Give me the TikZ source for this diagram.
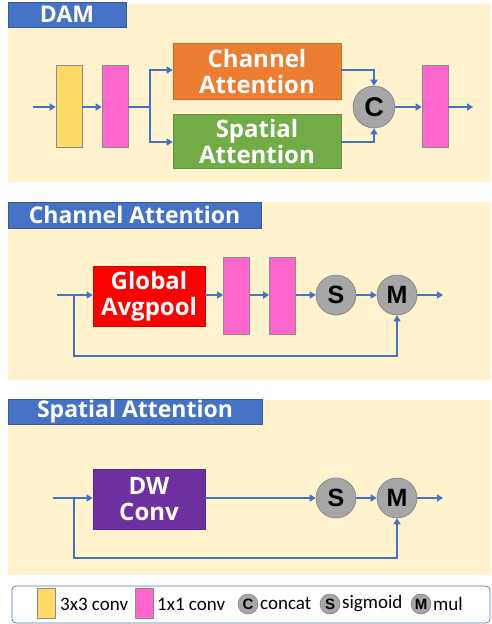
\documentclass[tikz,border=0pt]{standalone}
\usepackage{fontspec}
\usetikzlibrary{arrows.meta}
\newfontfamily\hdfont{Open Sans}
\newfontfamily\arfont{Liberation Sans}
\newfontfamily\lgfont{Carlito}
\definecolor{bgc}{HTML}{FFF2CC}
\definecolor{ttl}{HTML}{4472C4}
\definecolor{arrc}{HTML}{4472C4}
\definecolor{yel}{HTML}{FFD966}
\definecolor{pnk}{HTML}{FF66CC}
\definecolor{org}{HTML}{ED7D31}
\definecolor{grn}{HTML}{70AD47}
\definecolor{prp}{HTML}{7030A0}
\definecolor{cir}{HTML}{A6A6A6}
\tikzset{
  panel/.style={fill=bgc,draw=none},
  titlebox/.style={fill=ttl,draw=ttl!80!black,line width=0.6pt,inner sep=0pt,text=white,font=\hdfont\bfseries\fontsize{23}{25}\selectfont},
  bar/.style={draw=black!45,line width=0.6pt,minimum width=26pt,minimum height=82pt,inner sep=0pt},
  yelbar/.style={bar,fill=yel},
  pnkbar/.style={bar,fill=pnk},
  blk/.style={draw=#1!85!black,fill=#1,line width=0.6pt,text=white,align=center,inner sep=0pt,font=\hdfont\bfseries\fontsize{24}{26}\selectfont},
  opc/.style={circle,fill=cir,draw=black!50,line width=0.6pt,minimum size=40pt,inner sep=0pt,font=\arfont\bfseries\fontsize{25}{25}\selectfont},
  lgc/.style={circle,fill=cir,draw=black!50,line width=0.5pt,minimum size=20pt,inner sep=0pt,font=\arfont\bfseries\fontsize{15}{15}\selectfont},
  lgt/.style={anchor=west,inner sep=0pt,font=\lgfont\fontsize{19}{19}\selectfont},
  arr/.style={draw=arrc,line width=1.6pt,-{Triangle[length=6pt,width=7pt]}},
  ln/.style={draw=arrc,line width=1.6pt}
}
\begin{document}
\begin{tikzpicture}[x=1pt,y=-1pt]
\useasboundingbox (0,0) rectangle (491,624);
% ---------- panel 1: DAM
\fill[panel] (8,4) rectangle (491,182);
\node[titlebox,minimum width=118pt,minimum height=25pt] (t1) at (67,14.5) {DAM};
\node[yelbar] (y1) at (69,106) {};
\node[pnkbar] (p1) at (115,106) {};
\node[blk=org,minimum width=168pt,minimum height=56pt] (ca) at (257,71) {Channel\\Attention};
\node[blk=grn,minimum width=168pt,minimum height=54pt] (sa) at (257,141) {Spatial\\Attention};
\node[opc,minimum size=42pt,font=\arfont\bfseries\fontsize{27}{27}\selectfont] (cc) at (374,107) {C};
\node[pnkbar] (p2) at (435,106) {};
\coordinate (in1) at (33,107);
\coordinate (out1) at (473,107);
\coordinate (sp1) at (150,107);
\draw[arr] (in1) -- (y1.west |- in1);
\draw[arr] (y1.east |- in1) -- (p1.west |- in1);
\draw[ln] (p1.east |- in1) -- (sp1);
\draw[arr] (sp1) |- ([yshift=1pt]ca.west);
\draw[arr] (sp1) |- ([yshift=-1pt]sa.west);
\draw[arr] ([yshift=1pt]ca.east) -| (cc.north);
\draw[arr] ([yshift=-1pt]sa.east) -| (cc.south);
\draw[arr] (cc.east) -- (p2.west |- cc.east);
\draw[arr] (p2.east |- cc.east) -- (out1);
% ---------- panel 2: Channel Attention
\fill[panel] (8,202) rectangle (491,380);
\node[titlebox,minimum width=253pt,minimum height=26pt] (t2) at (134.5,215) {Channel Attention};
\node[blk=red,minimum width=112pt,minimum height=60pt] (gap) at (149,296) {Global\\Avgpool};
\node[pnkbar,minimum height=77pt] (p3) at (236.5,296) {};
\node[pnkbar,minimum height=77pt] (p4) at (282.5,296) {};
\node[opc] (s2) at (336,295) {S};
\node[opc] (m2) at (397,295) {M};
\coordinate (in2) at (57,295);
\coordinate (br2) at (74,295);
\coordinate (lp2) at (74,356);
\coordinate (out2) at (443,295);
\draw[ln] (in2) -- (br2);
\draw[arr] (br2) -- (gap.west |- br2);
\draw[arr] (gap.east |- br2) -- (p3.west |- br2);
\draw[arr] (p3.east |- br2) -- (p4.west |- br2);
\draw[arr] (p4.east |- br2) -- (s2.west);
\draw[arr] (s2.east) -- (m2.west);
\draw[arr] (m2.east) -- (out2);
\draw[arr] (br2) -- (lp2) -| (m2.south);
% ---------- panel 3: Spatial Attention
\fill[panel] (8,400) rectangle (491,575);
\node[titlebox,minimum width=254pt,minimum height=25pt] (t3) at (135,411.5) {Spatial Attention};
\node[blk=prp,minimum width=112pt,minimum height=60pt] (dw) at (149,499) {DW\\Conv};
\node[opc] (s3) at (336,498) {S};
\node[opc] (m3) at (397,498) {M};
\coordinate (in3) at (53,498);
\coordinate (br3) at (74,498);
\coordinate (lp3) at (74,558);
\coordinate (out3) at (443,498);
\draw[ln] (in3) -- (br3);
\draw[arr] (br3) -- (dw.west |- br3);
\draw[arr] (dw.east |- br3) -- (s3.west);
\draw[arr] (s3.east) -- (m3.west);
\draw[arr] (m3.east) -- (out3);
\draw[arr] (br3) -- (lp3) -| (m3.south);
% ---------- legend
\draw[draw=ttl!70!gray,fill=white,line width=0.7pt,rounded corners=4pt] (12,586) rectangle (490,623);
\node[yelbar,minimum width=18pt,minimum height=30pt] (ly) at (46,603) {};
\node[lgt] (lyt) at (60,604) {3x3 conv};
\node[pnkbar,minimum width=18pt,minimum height=30pt] (lp) at (144,603) {};
\node[lgt] (lpt) at (157,604) {1x1 conv};
\node[lgc] (lc) at (248,604) {C};
\node[lgt] (lct) at (260,604) {concat};
\node[lgc] (ls) at (330,604) {S};
\node[lgt] (lst) at (342,604) {sigmoid};
\node[lgc] (lm) at (421,604) {M};
\node[lgt] (lmt) at (433,604) {mul};
\end{tikzpicture}
\end{document}
